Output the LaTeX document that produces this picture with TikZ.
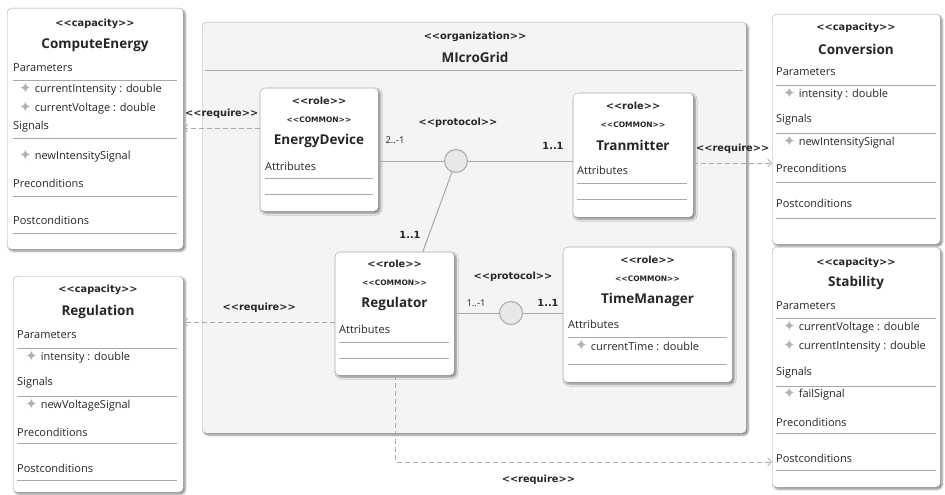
\documentclass[tikz,border=0pt]{standalone}
\usepackage{fontspec}
\setmainfont{Open Sans}
\newfontfamily\stereofont{DejaVu Sans}
\usepackage{tikz}
\usetikzlibrary{positioning,shadows.blur,arrows.meta}
\definecolor{linegray}{HTML}{A8A8A8}
\definecolor{orgfill}{HTML}{F4F4F4}
\definecolor{protofill}{HTML}{E8E8E8}
\newcommand{\attrmark}{\smash{\raisebox{-0.5pt}{\stereofont\fontsize{15}{11}\selectfont\color{gray!60}\char"2726}}\hspace{3pt}}

\begin{document}
\begin{tikzpicture}[
    x=1pt, y=-1pt,
    every node/.style={inner sep=0pt, text=black!85},
    umlbox/.style={draw=linegray, fill=white, rounded corners=4pt, anchor=north west,
        blur shadow={shadow xshift=1.8pt, shadow yshift=-1.8pt, shadow blur steps=4, shadow opacity=50}},
    orgbox/.style={umlbox, fill=orgfill},
    stereo/.style={font=\stereofont\bfseries\fontsize{9.8}{11}\selectfont},
    common/.style={font=\stereofont\bfseries\fontsize{7.5}{9}\selectfont},
    title/.style={font=\bfseries\fontsize{13.5}{15}\selectfont},
    field/.style={anchor=west, font=\fontsize{11}{13}\selectfont},
    sep/.style={draw=linegray, line width=0.6pt},
    link/.style={draw=linegray, line width=1pt},
    require/.style={draw=linegray, dash pattern=on 5pt off 3pt, line width=0.6pt,
        -{Straight Barb[length=4pt, width=8pt]}},
    proto/.style={circle, draw=linegray, fill=protofill, line width=1pt, minimum size=23pt},
    mult/.style={font=\fontsize{9.5}{11}\selectfont}
]
\useasboundingbox (0,0) rectangle (945,495);

% Organization container
\node[orgbox, minimum width=544pt, minimum height=411pt] (org) at (202,22) {};
\node[stereo] (org-st) at (475,37) {<<organization>>};
\node[title] (org-name) at (475,57) {MIcroGrid};
\draw[sep] (205,70) -- (743,70);

% Capacity: ComputeEnergy
\node[umlbox, minimum width=176pt, minimum height=241pt] (ce) at (7,8) {};
\node[stereo] (ce-st) at (95,24) {<<capacity>>};
\node[title] (ce-name) at (95,45) {ComputeEnergy};
\node[field] (ce-par) at (13,68) {Parameters};
\draw[sep] (13,80) -- (177,80);
\node[field] (ce-p1) at (19,90) {\attrmark currentIntensity : double};
\node[field] (ce-p2) at (19,109) {\attrmark currentVoltage : double};
\node[field] (ce-sig) at (13,127) {Signals};
\draw[sep] (13,138) -- (177,138);
\node[field] (ce-s1) at (19,157) {\attrmark newIntensitySignal};
\node[field] (ce-pre) at (13,183) {Preconditions};
\draw[sep] (13,196) -- (177,196);
\node[field] (ce-post) at (13,220) {Postconditions};
\draw[sep] (13,233) -- (177,233);

% Capacity: Regulation
\node[umlbox, minimum width=170pt, minimum height=216pt] (rg) at (13,276) {};
\node[stereo] (rg-st) at (98,290) {<<capacity>>};
\node[title] (rg-name) at (98,312) {Regulation};
\node[field] (rg-par) at (17,335) {Parameters};
\draw[sep] (17,348) -- (177,348);
\node[field] (rg-p1) at (25,358) {\attrmark intensity : double};
\node[field] (rg-sig) at (17,383) {Signals};
\draw[sep] (17,396) -- (177,396);
\node[field] (rg-s1) at (25,406) {\attrmark newVoltageSignal};
\node[field] (rg-pre) at (17,432) {Preconditions};
\draw[sep] (17,443) -- (177,443);
\node[field] (rg-post) at (17,468) {Postconditions};
\draw[sep] (17,480) -- (177,480);

% Capacity: Conversion
\node[umlbox, minimum width=168pt, minimum height=230pt] (cv) at (772,14) {};
\node[stereo] (cv-st) at (856,28) {<<capacity>>};
\node[title] (cv-name) at (856,49) {Conversion};
\node[field] (cv-par) at (776,72) {Parameters};
\draw[sep] (776,85) -- (936,85);
\node[field] (cv-p1) at (783,95) {\attrmark intensity : double};
\node[field] (cv-sig) at (776,120) {Signals};
\draw[sep] (776,133) -- (936,133);
\node[field] (cv-s1) at (783,143) {\attrmark newIntensitySignal};
\node[field] (cv-pre) at (776,168) {Preconditions};
\draw[sep] (776,182) -- (936,182);
\node[field] (cv-post) at (776,203) {Postconditions};
\draw[sep] (776,218) -- (936,218);

% Capacity: Stability
\node[umlbox, minimum width=168pt, minimum height=240pt] (st) at (772,247) {};
\node[stereo] (st-st) at (856,263) {<<capacity>>};
\node[title] (st-name) at (856,283) {Stability};
\node[field] (st-par) at (776,306) {Parameters};
\draw[sep] (776,318) -- (936,318);
\node[field] (st-p1) at (783,328) {\attrmark currentVoltage : double};
\node[field] (st-p2) at (783,347) {\attrmark currentIntensity : double};
\node[field] (st-sig) at (776,373) {Signals};
\draw[sep] (776,386) -- (936,386);
\node[field] (st-s1) at (783,395) {\attrmark failSignal};
\node[field] (st-pre) at (776,422) {Preconditions};
\draw[sep] (776,433) -- (936,433);
\node[field] (st-post) at (776,458) {Postconditions};
\draw[sep] (776,470) -- (936,470);

% Roles
\node[umlbox, minimum width=118pt, minimum height=123pt] (ed) at (260,88) {};
\node[stereo] (ed-st) at (319,101) {<<role>>};
\node[common] (ed-cm) at (319,120) {<<COMMON>>};
\node[title] (ed-name) at (319,141) {EnergyDevice};
\node[field] (ed-att) at (265,166) {Attributes};
\draw[sep] (265,178) -- (373,178);
\draw[sep] (265,194) -- (373,194);

\node[umlbox, minimum width=120pt, minimum height=124pt] (tr) at (573,93) {};
\node[stereo] (tr-st) at (633,106) {<<role>>};
\node[common] (tr-cm) at (633,125) {<<COMMON>>};
\node[title] (tr-name) at (633,145) {Tranmitter};
\node[field] (tr-att) at (577,170) {Attributes};
\draw[sep] (577,183) -- (687,183);
\draw[sep] (577,199) -- (687,199);

\node[umlbox, minimum width=119pt, minimum height=123pt] (ru) at (335,252) {};
\node[stereo] (ru-st) at (394.5,264) {<<role>>};
\node[common] (ru-cm) at (394.5,283) {<<COMMON>>};
\node[title] (ru-name) at (394.5,304) {Regulator};
\node[field] (ru-att) at (339,329) {Attributes};
\draw[sep] (339,342) -- (449,342);
\draw[sep] (339,358) -- (449,358);

\node[umlbox, minimum width=169pt, minimum height=135pt] (tm) at (563,247) {};
\node[stereo] (tm-st) at (647.5,260) {<<role>>};
\node[common] (tm-cm) at (647.5,279) {<<COMMON>>};
\node[title] (tm-name) at (647.5,300) {TimeManager};
\node[field] (tm-att) at (568,324) {Attributes};
\draw[sep] (568,337) -- (727,337);
\node[field] (tm-a1) at (575,346) {\attrmark currentTime : double};
\draw[sep] (568,364) -- (727,364);

% Protocols
\node[proto] (p1) at (456,161) {};
\node[proto] (p2) at (511,313) {};
\node[stereo] (p1-lbl) at (458,123) {<<protocol>>};
\node[stereo] (p2-lbl) at (513,277) {<<protocol>>};

\draw[link] (ed.east |- p1) -- (p1);
\draw[link] (p1) -- (tr.west |- p1);
\draw[link] (p1) -- ([xshift=28pt]ru.north);
\draw[link] (ru.east |- p2) -- (p2);
\draw[link] (p2) -- (tm.west |- p2);

% Multiplicities
\node[mult] (m-ed) at (395,140) {2..-1};
\node[stereo] (m-tr) at (553,146) {1..1};
\node[stereo] (m-ru) at (410,235) {1..1};
\node[mult] (m-ru2) at (476,303) {1..-1};
\node[stereo] (m-tm) at (548,303) {1..1};

% Require dependencies
\draw[require] (ed.west |- 0,128) -- node[midway, above=9pt, stereo]{<<require>>} (ce.east |- 0,128);
\draw[require] (ru.west |- 0,322) -- node[midway, above=9pt, stereo]{<<require>>} (rg.east |- 0,322);
\draw[require] (tr.east |- 0,163) -- node[midway, above=9pt, stereo]{<<require>>} (cv.west |- 0,163);
\draw[require] ([xshift=0.5pt]ru.south) |- node[pos=0.69, below=13pt, stereo]{<<require>>} (st.west |- 0,462);

\end{tikzpicture}
\end{document}
